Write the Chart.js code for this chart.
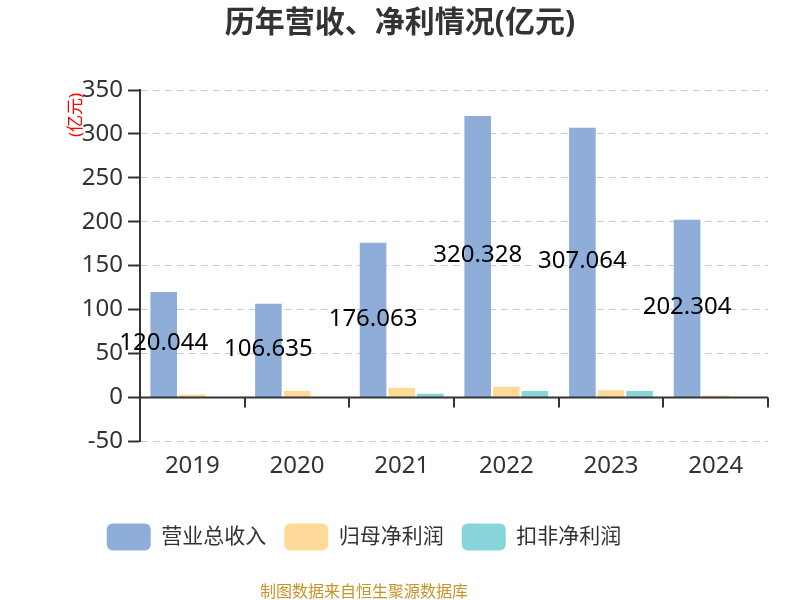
<!DOCTYPE html>
<html>
<head>
<meta charset="utf-8">
<script src="https://cdn.jsdelivr.net/npm/chart.js@4.4.0/dist/chart.umd.min.js"></script>
<style>
html,body{margin:0;padding:0;background:#fff;}
canvas{display:block;}
</style>
</head>
<body>
<canvas id="c" width="800" height="600"></canvas>
<script>
const years = ['2019', '2020', '2021', '2022', '2023', '2024'];
const revenue = [120.044, 106.635, 176.063, 320.328, 307.064, 202.304];
const netProfit = [3.2, 7.3, 11.0, 12.2, 8.1, 2.1];
const deductedProfit = [0.4, -0.8, 4.0, 7.2, 7.3, -0.4];
const seriesNames = ['营业总收入', '归母净利润', '扣非净利润'];
const yTicks = [350, 300, 250, 200, 150, 100, 50, 0, -50];

const FONT = "'Noto Sans', 'Noto Sans CJK SC', sans-serif";
const BOTTOM_SHIFT = -36;

const overlay = {
  id: 'overlay',
  afterLayout(chart) {
    [chart.legend, chart.boxes.find(b => b.options && b.options.text === '制图数据来自恒生聚源数据库')].forEach(b => {
      if (b) { b.left += BOTTOM_SHIFT; b.right += BOTTOM_SHIFT; }
    });
  },
  afterDatasetsDraw(chart) {
    const ctx = chart.ctx;
    const ys = chart.scales.y;
    const area = chart.chartArea;
    const y0 = ys.getPixelForValue(0);
    ctx.save();
    ctx.strokeStyle = '#333';
    ctx.lineWidth = 2;
    ctx.beginPath();
    ctx.moveTo(area.left, y0);
    ctx.lineTo(area.right, y0);
    ctx.stroke();
    const n = years.length;
    const step = (area.right - area.left) / n;
    for (let i = 0; i <= n; i++) {
      const x = Math.round(area.left + i * step);
      ctx.beginPath();
      ctx.moveTo(x, y0);
      ctx.lineTo(x, y0 + 10);
      ctx.stroke();
    }
    const meta = chart.getDatasetMeta(0);
    ctx.fillStyle = '#000';
    ctx.font = '24px ' + FONT;
    ctx.textAlign = 'center';
    ctx.textBaseline = 'middle';
    meta.data.forEach((bar, i) => {
      const p = bar.getProps(['x', 'y', 'base'], true);
      ctx.fillText(revenue[i].toFixed(3), p.x, (p.y + p.base) / 2 - 1);
    });
    ctx.translate(76, 115);
    ctx.rotate(-Math.PI / 2);
    ctx.fillStyle = '#ff0000';
    ctx.font = '17px ' + FONT;
    ctx.fillText('(亿元)', 0, 0);
    ctx.restore();
  }
};

new Chart(document.getElementById('c'), {
  type: 'bar',
  data: {
    labels: years,
    datasets: [
      { label: seriesNames[0], data: revenue, backgroundColor: '#8eadd9' },
      { label: seriesNames[1], data: netProfit, backgroundColor: '#ffd998' },
      { label: seriesNames[2], data: deductedProfit, backgroundColor: '#87d5d9' }
    ]
  },
  options: {
    responsive: false,
    animation: false,
    devicePixelRatio: 1,
    layout: { padding: { left: 32, right: 32, top: 0, bottom: 0 } },
    datasets: { bar: { categoryPercentage: 0.82, barPercentage: 0.93 } },
    scales: {
      x: {
        grid: { display: false, drawTicks: false },
        border: { display: false },
        ticks: { padding: 10.6, color: '#333', font: { size: 24, family: FONT } },
        afterFit(s) { s.height += 14.2; }
      },
      y: {
        min: -50, max: 350,
        afterBuildTicks(s) { s.ticks = yTicks.map(v => ({ value: v })); },
        afterFit(s) { s.width = 108; },
        grid: { color: '#cccccc', lineWidth: 1, tickLength: 12, tickColor: '#333', tickWidth: 2 },
        border: { display: true, color: '#333', width: 2, dash: [7, 5] },
        ticks: { padding: 5, color: '#333', font: { size: 24, family: FONT } }
      }
    },
    plugins: {
      title: {
        display: true,
        text: '历年营收、净利情况(亿元)',
        color: '#333',
        font: { size: 30, weight: 'bold', family: FONT },
        padding: { top: 5, bottom: 49 }
      },
      legend: {
        position: 'bottom',
        labels: {
          boxWidth: 44, boxHeight: 27, useBorderRadius: true, borderRadius: 6,
          padding: 18, color: '#333', font: { size: 21, family: FONT }
        }
      },
      subtitle: {
        display: true,
        position: 'bottom',
        text: '制图数据来自恒生聚源数据库',
        color: '#c8942a',
        font: { size: 16, family: FONT, lineHeight: 1 },
        padding: { top: 23.5, bottom: 0 }
      },
      tooltip: { enabled: false }
    }
  },
  plugins: [overlay]
});
</script>
</body>
</html>
